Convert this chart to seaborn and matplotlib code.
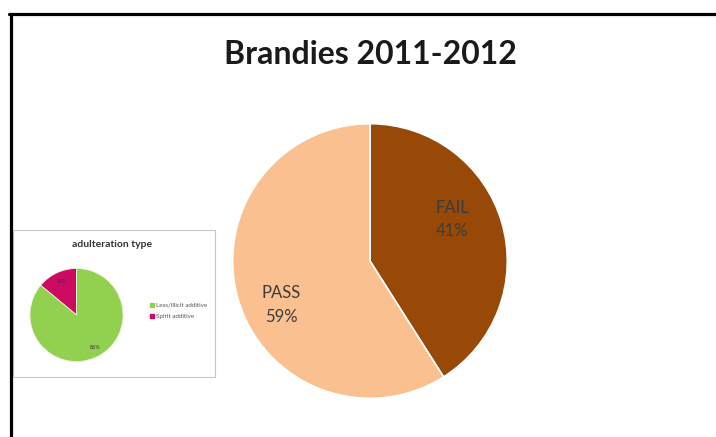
import matplotlib
matplotlib.use("Agg")
import matplotlib.pyplot as plt
from matplotlib.lines import Line2D
from matplotlib.patches import Rectangle
import seaborn as sns

# ---- data ----
main_title = "Brandies 2011-2012"
main_labels = ["FAIL", "PASS"]
main_values = [41, 59]
main_colors = ["#984807", "#FAC090"]

inset_title = "adulteration type"
inset_labels = ["Spirit additive", "Less/illicit additive"]
inset_values = [14, 86]
inset_colors = ["#CC0A62", "#92D050"]

sns.set_theme(style="white")
plt.rcParams['font.family'] = ['Lato', 'DejaVu Sans']

W, H = 716, 437
fig = plt.figure(figsize=(W / 100, H / 100), dpi=100)
fig.patch.set_facecolor("white")

def rect(x0, y0, x1, y1):
    return [x0 / W, 1 - y1 / H, (x1 - x0) / W, (y1 - y0) / H]

# frame lines (top and left)
fig.add_artist(Line2D([9 / W, 1], [1 - 13.5 / H, 1 - 13.5 / H], color="black", lw=2.3, transform=fig.transFigure))
fig.add_artist(Line2D([10.5 / W, 10.5 / W], [0, 1 - 13.5 / H], color="black", lw=2.3, transform=fig.transFigure))

# title
fig.text(370 / W, 1 - 55 / H, main_title, ha="center", va="center",
         fontsize=23, fontweight="bold", color="#1a1a1a")

# main pie
ax = fig.add_axes(rect(232, 123, 508, 399))
wedges, _ = ax.pie(main_values, colors=main_colors, startangle=90, counterclock=False,
                   radius=1, wedgeprops=dict(edgecolor="white", linewidth=1.2))
ax.set_xlim(-1.005, 1.005)
ax.set_ylim(-1.005, 1.005)
ax.set_aspect("equal")
ax.axis("off")
label_pos = [(0.6, 0.30), (-0.645, -0.32)]
for (lx, ly), lab, val in zip(label_pos, main_labels, main_values):
    ax.text(lx, ly, f"{lab}\n{val}%", ha="center", va="center", fontsize=12,
            color="#3c3c3c", linespacing=1.55)

# inset box
box = fig.add_axes(rect(13, 230, 215, 377))
box.set_xticks([])
box.set_yticks([])
for s in box.spines.values():
    s.set_color("#c8c8c8")
    s.set_linewidth(0.8)
box.set_facecolor("white")
box.text(0.49, 0.9, inset_title, transform=box.transAxes, ha="center", va="center",
         fontsize=7.5, fontweight="bold", color="#333333")

# inset pie
ax2 = fig.add_axes(rect(29.5, 268, 123.5, 362))
w2, _ = ax2.pie(inset_values, colors=inset_colors, startangle=90, counterclock=True,
                radius=1, wedgeprops=dict(edgecolor="#e8f5d8", linewidth=0.6))
ax2.set_xlim(-1.01, 1.01)
ax2.set_ylim(-1.01, 1.01)
ax2.set_aspect("equal")
ax2.axis("off")
ax2.text(-0.32, 0.72, f"{inset_values[0]}%", ha="center", va="center", fontsize=4, color="#333333")
ax2.text(0.4, -0.7, f"{inset_values[1]}%", ha="center", va="center", fontsize=4, color="#333333")

# inset legend
box.legend(handles=[Rectangle((0, 0), 1, 1, color=c) for c in inset_colors[::-1]],
           labels=inset_labels[::-1], loc="center left", bbox_to_anchor=(0.65, 0.45),
           fontsize=4.5, frameon=False, handlelength=0.6, handleheight=0.6,
           handletextpad=0.4, labelspacing=1.0, labelcolor="#555555")

fig.savefig("out.png", dpi=100, facecolor="white")
